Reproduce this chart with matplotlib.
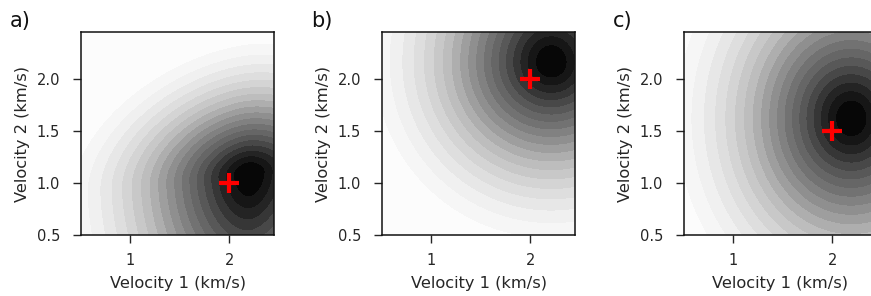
import numpy as np
import matplotlib
matplotlib.use("Agg")
import matplotlib.pyplot as plt

# panel labels and the true model (red cross) for each panel
panel_labels = ["a)", "b)", "c)"]
true_v1 = [2.0, 2.0, 2.0]
true_v2 = [1.0, 2.0, 1.5]

# shape of the misfit surface in each panel
peak_v1 = [2.20, 2.21, 2.19]
peak_v2 = [1.09, 2.16, 1.62]
scale_v1 = [0.95, 0.95, 0.94]
scale_v2_up = [0.66, 1.00, 1.05]
scale_v2_down = [1.35, 0.90, 1.05]
shear = [0.10, 0.0, 0.0]
norm_p = [1.8, 2.0, 2.0]
smooth = 0.15
misfit_max = 2.0

v1 = np.linspace(0.5, 2.45, 400)
v2 = np.linspace(0.5, 2.45, 400)
V1, V2 = np.meshgrid(v1, v2)

plt.rcParams["font.family"] = "DejaVu Sans"
text_color = "#262626"

fig = plt.figure(figsize=(8.71, 2.96), dpi=100)
lefts = [81 / 871, 382 / 871, 684 / 871]

for i, left in enumerate(lefts):
    ax = fig.add_axes([left, 61 / 296, 193 / 871, 203 / 296])
    dx = V1 - peak_v1[i]
    dy = V2 - peak_v2[i] - shear[i] * dx
    u = np.abs(dx) / scale_v1[i]
    v = np.where(dy > 0, dy / scale_v2_up[i], -dy / scale_v2_down[i])
    r = (u ** norm_p[i] + v ** norm_p[i]) ** (1 / norm_p[i])
    m = np.sqrt(smooth ** 2 + r ** 2) - smooth
    z = np.clip(1 - m / misfit_max, 0, None) ** 1.5
    ax.contourf(V1, V2, z, levels=np.linspace(0, 1, 21), cmap="Greys")
    ax.plot(true_v1[i], true_v2[i], "+", color="red", markersize=15, mew=3)

    ax.set_xlim(0.5, 2.45)
    ax.set_ylim(0.5, 2.45)
    ax.set_xticks([1, 2])
    ax.set_yticks([0.5, 1.0, 1.5, 2.0])
    ax.tick_params(axis="x", length=6, width=1, pad=7, labelsize=10.5, colors=text_color)
    ax.tick_params(axis="y", length=6, width=1, pad=9, labelsize=10.5, colors=text_color)
    for sp in ax.spines.values():
        sp.set_color("#111111")
        sp.set_linewidth(1.1)
    ax.set_xlabel("Velocity 1 (km/s)", fontsize=11.7, color=text_color, labelpad=6)
    ax.set_ylabel("Velocity 2 (km/s)", fontsize=11.7, color=text_color, labelpad=5)

    fig.text(left - 71 / 871, 1 - 27 / 296, panel_labels[i], fontsize=15,
             color="#111111", va="baseline", ha="left")

fig.savefig("out.png", dpi=100)
